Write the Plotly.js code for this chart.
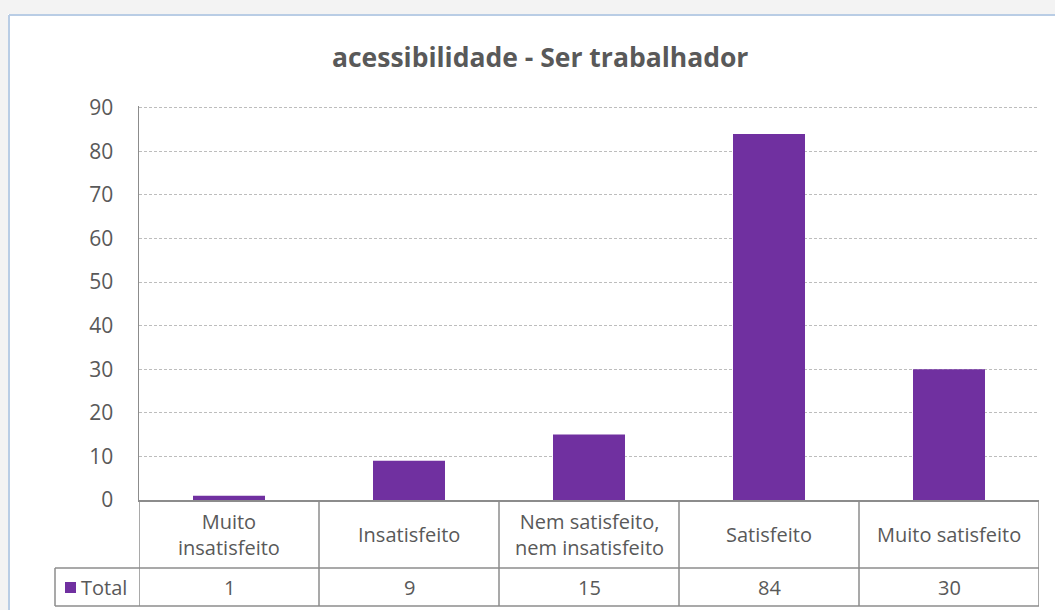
<!DOCTYPE html>
<html>
<head>
<meta charset="utf-8">
<script src="https://cdn.plot.ly/plotly-3.0.1.min.js"></script>
<style>
  html, body { margin: 0; padding: 0; background: #ffffff; overflow: hidden; }
  #chart { width: 1055px; height: 610px; }
</style>
</head>
<body>
<div id="chart"></div>
<script>
// Data
var categories = ["Muito insatisfeito", "Insatisfeito", "Nem satisfeito, nem insatisfeito", "Satisfeito", "Muito satisfeito"];
var categoryLabels = ["Muito<br>insatisfeito", "Insatisfeito", "Nem satisfeito,<br>nem insatisfeito", "Satisfeito", "Muito satisfeito"];
var totals = [1, 9, 15, 84, 30];
var seriesName = "Total";
var chartTitle = "acessibilidade - Ser trabalhador";

var textColor = "#595959";
var lineColor = "#8c8c8c";
var barColor = "#7030a0";
var font = "Open Sans, Lato, sans-serif";

// Plot box (pixels)
var W = 1055, H = 610, L = 139, R = 16, T = 106, B = 110;
var pw = W - L - R, ph = H - T - B;
function px2x(p) { return (p - L) / pw; }
function px2y(p) { return (H - B - p) / ph; }

// Table geometry (paper units)
var row1Bottom = px2y(568);
var row2Bottom = px2y(606);
var legendLeft = px2x(55);

var shapes = [];
// outer light-gray margins (top strip and left strip)
shapes.push({type: "rect", xref: "paper", yref: "paper", x0: px2x(-5), x1: px2x(1065), y0: px2y(14), y1: px2y(-5),
  line: {width: 0}, fillcolor: "#f3f3f3", layer: "below"});
shapes.push({type: "rect", xref: "paper", yref: "paper", x0: px2x(-5), x1: px2x(8), y0: px2y(620), y1: px2y(14),
  line: {width: 0}, fillcolor: "#f3f3f3", layer: "below"});
// chart frame border: top and left
shapes.push({type: "line", xref: "paper", yref: "paper", x0: px2x(9), x1: px2x(1065), y0: px2y(15), y1: px2y(15),
  line: {color: "#b9cde5", width: 2}, layer: "below"});
shapes.push({type: "line", xref: "paper", yref: "paper", x0: px2x(9), x1: px2x(9), y0: px2y(15), y1: px2y(620),
  line: {color: "#b9cde5", width: 2}, layer: "below"});
// horizontal table lines
shapes.push({type: "line", xref: "paper", yref: "paper", x0: legendLeft, x1: 1, y0: row1Bottom, y1: row1Bottom, line: {color: lineColor, width: 1.5}});
shapes.push({type: "line", xref: "paper", yref: "paper", x0: legendLeft, x1: 1, y0: row2Bottom, y1: row2Bottom, line: {color: lineColor, width: 1.5}});
// legend cell left border
shapes.push({type: "line", xref: "paper", yref: "paper", x0: legendLeft, x1: legendLeft, y0: row1Bottom, y1: row2Bottom, line: {color: lineColor, width: 1.5}});
// vertical category boundaries
for (var i = 0; i <= categories.length; i++) {
  shapes.push({type: "line", xref: "x", yref: "paper", x0: i - 0.5, x1: i - 0.5, y0: 0, y1: row2Bottom, line: {color: lineColor, width: 1.5}});
}
// legend key square
shapes.push({type: "rect", xref: "paper", yref: "paper",
  x0: px2x(65), x1: px2x(76), y0: px2y(582), y1: px2y(593),
  line: {width: 0}, fillcolor: barColor});

var tableFontSize = 20;
var annotations = [];
for (var j = 0; j < categories.length; j++) {
  annotations.push({xref: "x", yref: "paper", x: j, y: row1Bottom / 2, text: categoryLabels[j], showarrow: false,
    font: {family: font, size: tableFontSize, color: textColor}, xanchor: "center", yanchor: "middle"});
  annotations.push({xref: "x", yref: "paper", x: j, y: (row1Bottom + row2Bottom) / 2, text: String(totals[j]), showarrow: false,
    font: {family: font, size: tableFontSize, color: textColor}, xanchor: "center", yanchor: "middle"});
}
annotations.push({xref: "paper", yref: "paper", x: px2x(79), y: (row1Bottom + row2Bottom) / 2, text: seriesName, showarrow: false,
  font: {family: font, size: tableFontSize, color: textColor}, xanchor: "left", yanchor: "middle"});

var trace = {
  type: "bar",
  x: categories,
  y: totals,
  name: seriesName,
  marker: {color: barColor, line: {width: 0}},
  hoverinfo: "x+y"
};

var layout = {
  width: W,
  height: H,
  margin: {l: L, r: R, t: T, b: B, pad: 0},
  paper_bgcolor: "#ffffff",
  plot_bgcolor: "rgba(0,0,0,0)",
  showlegend: false,
  bargap: 0.6,
  title: {text: "<b>" + chartTitle + "</b>", x: 0.512, xanchor: "center", y: 0.905, yanchor: "middle",
    font: {family: font, size: 26.5, color: textColor}},
  xaxis: {type: "category", range: [-0.5, 4.5], showticklabels: false, ticks: "", showgrid: false,
    showline: true, linecolor: lineColor, linewidth: 1.5, zeroline: false, fixedrange: true},
  yaxis: {range: [0, 90.4], dtick: 10, tick0: 0, showgrid: true, gridcolor: "#bdbdbd", griddash: "3px,2px", gridwidth: 1,
    showline: true, linecolor: lineColor, linewidth: 1.5, zeroline: false, ticks: "", ticklabelstandoff: 20,
    tickfont: {family: font, size: 21, color: textColor}, fixedrange: true},
  shapes: shapes,
  annotations: annotations
};

Plotly.newPlot("chart", [trace], layout, {displayModeBar: false, staticPlot: true});
</script>
</body>
</html>
